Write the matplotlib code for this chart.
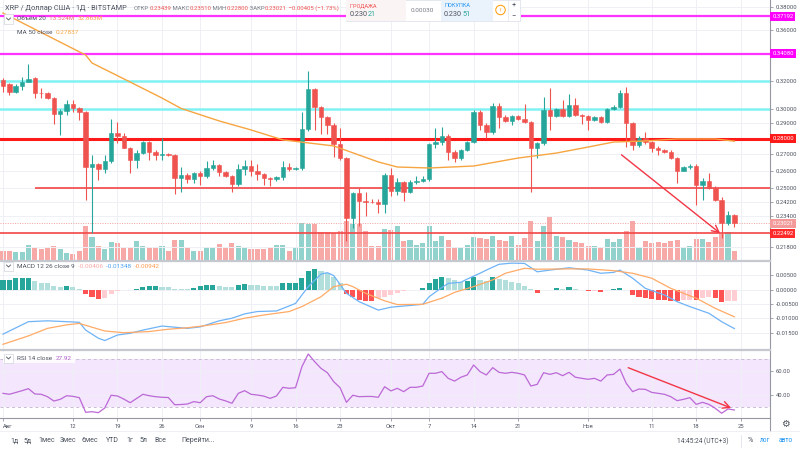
import matplotlib
matplotlib.use("Agg")
import matplotlib.pyplot as plt
import matplotlib.transforms as mtransforms
from matplotlib.patches import Rectangle
from matplotlib.lines import Line2D
from matplotlib.ticker import FixedLocator, FormatStrFormatter, NullLocator

plt.rcParams['font.family'] = ['Roboto', 'DejaVu Sans']

# ---------------- data ----------------
# x = day number, 0 = 1 Aug
date_ticks = [0, 11, 18, 25, 31, 39, 46, 53, 61, 67, 74, 81, 92, 102, 109, 116]
date_labels = ['Авг', '12', '19', '26', 'Сен', '9', '16', '23', 'Окт', '7', '14', '21', 'Ноя', '11', '18', '25']

opens = [
    .3208, .3176, .3122, .3166, .3195, .3220, .3115, .3110, .3079, .2967,
    .2986, .3032, .3004, .2981, .2625, .2639, .2611, .2660, .2835, .2820,
    .2743, .2662, .2711, .2781, .2717, .2697, .2705, .2697, .2559, .2575,
    .2551, .2585, .2567, .2615, .2637, .2591, .2567, .2520, .2607, .2627,
    .2595, .2581, .2555, .2549, .2561, .2625, .2611, .2615, .2861, .3142,
    .3016, .2942, .2890, .2764, .2676, .2331, .2468, .2424, .2420, .2416,
    .2407, .2575, .2481, .2531, .2473, .2531, .2541, .2549, .2766, .2781,
    .2818, .2717, .2680, .2728, .2777, .2981, .2890, .2842, .3023, .2947,
    .2920, .2949, .2931, .2913, .2739, .2770, .2993, .2954, .2999, .2954,
    .3027, .2958, .2949, .2924, .2944, .2909, .2999, .3016, .3110, .2902,
    .2760, .2807, .2777, .2743, .2728, .2717, .2676, .2599, .2619, .2631,
    .2516, .2539, .2500, .2430, .2304, .23439]
highs = [
    .3220, .3183, .3176, .3233, .3326, .3233, .3147, .3117, .3086, .2999,
    .3062, .3062, .3014, .2986, .2697, .2645, .2697, .2928, .2913, .2835,
    .2749, .2728, .2785, .2785, .2726, .2803, .2709, .2701, .2625, .2583,
    .2591, .2595, .2660, .2666, .2641, .2599, .2575, .2639, .2666, .2666,
    .2639, .2587, .2563, .2569, .2660, .2645, .2623, .2981, .3278, .3147,
    .3023, .2951, .2900, .2868, .2684, .2477, .2496, .2477, .2436, .2434,
    .2585, .2615, .2555, .2539, .2545, .2565, .2565, .2775, .2868, .2879,
    .2828, .2728, .2734, .2785, .2993, .2991, .2900, .3039, .3039, .2958,
    .2958, .2958, .3032, .2917, .2781, .3086, .3152, .3009, .3062, .3103,
    .3074, .2967, .2958, .2954, .2954, .3009, .3027, .3134, .3159, .2911,
    .2816, .2846, .2785, .2751, .2734, .2726, .2684, .2627, .2639, .2639,
    .2555, .2585, .2508, .2444, .2367, .23510]
lows = [
    .3122, .3098, .3110, .3134, .3190, .3079, .3074, .3069, .2895, .2824,
    .2958, .2981, .2924, .2430, .2252, .2545, .2585, .2645, .2770, .2739,
    .2585, .2615, .2705, .2666, .2666, .2666, .2690, .2462, .2473, .2526,
    .2526, .2516, .2559, .2605, .2565, .2561, .2477, .2512, .2575, .2565,
    .2545, .2516, .2512, .2539, .2545, .2595, .2603, .2605, .2853, .2857,
    .2828, .2828, .2686, .2666, .2209, .2278, .2287, .2340, .2412, .2358,
    .2358, .2449, .2459, .2424, .2466, .2520, .2531, .2539, .2739, .2760,
    .2666, .2655, .2666, .2722, .2770, .2857, .2803, .2833, .2868, .2909,
    .2890, .2922, .2904, .2477, .2676, .2760, .2857, .2944, .2947, .2947,
    .2951, .2895, .2857, .2917, .2900, .2902, .2991, .3004, .2749, .2728,
    .2747, .2768, .2717, .2697, .2709, .2668, .2526, .2595, .2611, .2403,
    .2430, .2492, .2421, .2226, .2295, .22800]
closes = [
    .3166, .3122, .3166, .3195, .3215, .3115, .3110, .3079, .2963, .2986,
    .3034, .3004, .2981, .2625, .2639, .2611, .2660, .2835, .2820, .2743,
    .2662, .2711, .2781, .2717, .2697, .2705, .2697, .2559, .2575, .2551,
    .2585, .2567, .2615, .2637, .2591, .2567, .2520, .2607, .2627, .2595,
    .2581, .2555, .2549, .2561, .2625, .2611, .2615, .2861, .3142, .3016,
    .2942, .2890, .2764, .2676, .2331, .2468, .2421, .2420, .2416, .2407,
    .2575, .2481, .2531, .2473, .2531, .2541, .2549, .2766, .2781, .2818,
    .2717, .2680, .2728, .2777, .2981, .2890, .2842, .3023, .2947, .2920,
    .2949, .2931, .2913, .2739, .2770, .2993, .2954, .2999, .2954, .3027,
    .2958, .2949, .2924, .2944, .2909, .2999, .3016, .3110, .2902, .2760,
    .2807, .2777, .2743, .2728, .2717, .2676, .2599, .2619, .2631, .2516,
    .2539, .2500, .2430, .2304, .2344, .23021]

# volume, millions
volume = [
    14, 14, 11.5, 11.5, 23, 19, 16.5, 19, 21.5, 16.5,
    10, 9, 13, 51.5, 34, 21.5, 16.5, 26.5, 25.5, 19,
    20, 29, 21.5, 19, 20, 21.5, 14, 30, 30, 17.5,
    14, 13, 20, 19, 24, 19, 25, 20.5, 20, 16.5,
    16.5, 16.5, 19, 23, 22, 13, 19, 55.5, 54, 54,
    41.5, 41.5, 40, 44, 59, 54, 54, 44, 21.5, 21.5,
    46.5, 45.5, 51.5, 28, 30, 22.5, 26, 51.5, 29, 35.5,
    30, 17.5, 19, 22.5, 34, 32.5, 31.5, 35.5, 30, 29,
    36.5, 22.5, 33, 59, 28, 51.5, 66.5, 36.5, 35, 30,
    26.5, 25, 21.5, 20.5, 19, 31.5, 27.5, 31.5, 44, 58,
    19, 29, 25, 27.5, 25, 29, 30, 19, 21.5, 31.5,
    31.5, 26.5, 34, 39, 42.5, 13.524]

ma50_days = [0, 13, 14, 20, 25, 28, 34, 39, 44, 52, 59, 62, 67, 74, 81, 87, 92, 96, 101, 106, 112, 115]
ma50_vals = [0.3745, 0.3398, 0.3336, 0.3192, 0.3076, 0.3003, 0.2917, 0.2857, 0.2792, 0.2753, 0.2653,
             0.2622, 0.2616, 0.2628, 0.2677, 0.2708, 0.2746, 0.2778, 0.2785, 0.2798, 0.2798, 0.27837]

macd_hist = [
    0.0034, 0.0034, 0.0038, 0.0039, 0.0041, 0.0030, 0.0024, 0.0021, 0.0013, 0.0009,
    0.0011, 0.0007, 0.0001, -0.0014, -0.0025, -0.0033, -0.0029, -0.0014, -0.0005, -0.0001,
    -0.0002, 0.0001, 0.0009, 0.0011, 0.0011, 0.0010, 0.0007, 0.0003, 0.0002, 0.0001,
    0.0006, 0.0011, 0.0015, 0.0016, 0.0013, 0.0010, 0.0009, 0.0017, 0.0020, 0.0017,
    0.0016, 0.0013, 0.0012, 0.0011, 0.0021, 0.0022, 0.0023, 0.0038, 0.0064, 0.0070,
    0.0064, 0.0057, 0.0044, 0.0021, -0.0014, -0.0025, -0.0037, -0.0038, -0.0039, -0.0031,
    -0.0025, -0.0019, -0.0011, -0.0005, -0.0003, -0.0001, 0.0006, 0.0022, 0.0035, 0.0042,
    0.0038, 0.0033, 0.0025, 0.0030, 0.0042, 0.0033, 0.0030, 0.0042, 0.0036, 0.0033,
    0.0027, 0.0021, 0.0013, 0.0001, -0.0011, -0.0002, 0.0000, 0.0004, 0.0003, 0.0007,
    0.0001, 0.0000, -0.0004, -0.0004, -0.0009, -0.0001, 0.0001, 0.0004, -0.0001, -0.0019,
    -0.0027, -0.0030, -0.0034, -0.0036, -0.0037, -0.0038, -0.0039, -0.0036, -0.0035, -0.0037,
    -0.0028, -0.0027, -0.0031, -0.0042, -0.0041, -0.00406]

macd_days = [0, 4, 7, 10, 12, 13, 15, 16, 18, 20, 22, 25, 29, 31, 34, 36, 38, 40, 43, 46, 48, 50, 51,
             52, 54, 56, 59, 61, 66, 67, 69, 70, 72, 73, 75, 76, 78, 80, 82, 84, 86, 89, 92, 94, 96,
             97, 99, 101, 104, 106, 108, 111, 113, 115]
macd_line = [-0.0154, -0.0111, -0.0108, -0.0111, -0.0113, -0.0140, -0.0168, -0.0176, -0.0157, -0.0151,
             -0.0140, -0.0126, -0.0134, -0.0129, -0.0108, -0.0099, -0.0084, -0.0076, -0.0074, -0.0048,
             0.0010, 0.0053, 0.0058, 0.0048, -0.0013, -0.0042, -0.0071, -0.0061, -0.0051, -0.0025,
             0.0007, 0.0021, 0.0025, 0.0036, 0.0056, 0.0067, 0.0087, 0.0091, 0.0090, 0.0061,
             0.0067, 0.0075, 0.0067, 0.0056, 0.0059, 0.0067, 0.0039, 0.0004, -0.0019, -0.0042,
             -0.0059, -0.0082, -0.0111, -0.01348]

signal_days = [0, 4, 7, 10, 12, 14, 16, 19, 23, 26, 29, 32, 35, 38, 41, 45, 47, 50, 52, 54, 55, 57,
               60, 62, 66, 69, 71, 74, 77, 79, 82, 84, 89, 92, 96, 99, 102, 105, 109, 112, 115]
signal_line = [-0.0189, -0.0160, -0.0134, -0.0122, -0.0117, -0.0130, -0.0143, -0.0149, -0.0145,
               -0.0137, -0.0132, -0.0124, -0.0114, -0.0099, -0.0088, -0.0076, -0.0059, -0.0025,
               0.0010, 0.0018, 0.0010, -0.0013, -0.0039, -0.0052, -0.0051, -0.0030, -0.0010,
               0.0010, 0.0033, 0.0056, 0.0073, 0.0070, 0.0071, 0.0071, 0.0065, 0.0056, 0.0039,
               0.0004, -0.0030, -0.0065, -0.00942]

rsi = [
    41.8, 41.0, 42.5, 44.0, 45.7, 41.3, 41.0, 39.0, 35.4, 36.8,
    39.8, 39.3, 38.2, 26.0, 26.5, 25.7, 29.6, 40.2, 39.6, 37.0,
    34.0, 37.5, 41.0, 39.8, 39.0, 38.5, 38.3, 32.3, 32.5, 32.9,
    34.9, 34.0, 39.0, 39.8, 37.1, 35.5, 33.5, 41.8, 44.0, 41.0,
    40.4, 39.5, 37.6, 39.6, 46.8, 46.0, 46.5, 64.0, 74.6, 68.2,
    62.6, 59.0, 51.5, 46.5, 34.3, 40.2, 39.0, 39.2, 39.2, 38.5,
    47.3, 43.8, 46.0, 43.2, 46.8, 46.8, 47.9, 58.5, 58.5, 59.9,
    54.3, 52.0, 55.2, 57.1, 65.4, 59.9, 57.1, 63.2, 59.3, 58.5,
    59.3, 58.5, 57.1, 47.9, 49.3, 59.0, 57.6, 59.0, 56.5, 59.3,
    55.2, 54.3, 53.5, 54.3, 52.0, 57.1, 57.6, 62.0, 50.1, 43.2,
    45.4, 45.1, 42.6, 41.8, 41.0, 39.0, 35.7, 36.8, 38.2, 32.6,
    34.3, 32.6, 29.3, 25.2, 28.8, 27.92]

# drawn levels
resist_magenta = [0.37192, 0.34080]
resist_cyan = [0.32, 0.30]
level_main = 0.28
support_mid = 0.25
support_mid_from = 5
support_low = 0.22492
last_price = 0.23021

price_ticks = [0.38, 0.36, 0.32, 0.30, 0.29, 0.27, 0.26, 0.25, 0.242, 0.234, 0.218]
macd_ticks = [0.005, 0.0, -0.005, -0.01, -0.015]
rsi_ticks = [60, 40]

price_arrow = ((96.9, 0.2708), (113.1, 0.2240))
rsi_arrow = ((97.9, 64.0), (114.9, 28.75))

# ---------------- layout ----------------
W, H = 800, 450
PANE_R = 770
XLIM = (-0.47, 120.6)

GREEN = '#26a69a'
RED = '#ef5350'
TXT = '#4c525e'
GRAY = '#787b86'

fig = plt.figure(figsize=(8, 4.5), dpi=100)
fig.patch.set_facecolor('white')
renderer = fig.canvas.get_renderer()


def fx(px):
    return px / W


def fy(py):
    return 1 - py / H


def rect(top, bottom):
    return [0, fy(bottom), fx(PANE_R), (bottom - top) / H]


def ftext(x, y, s, color=TXT, size=4.6, **kw):
    kw.setdefault('zorder', 6)
    return fig.text(fx(x), fy(y), s, color=color, fontsize=size, va='center', **kw)


def ftext_seq(x, y, parts, size=4.6, **kw):
    # strings written one after another, each in its own colour
    for s, c in parts:
        t = ftext(x, y, s, color=c, size=size, **kw)
        x += t.get_window_extent(renderer).width
    return x


def style_pane(a, ticks, fmt):
    a.set_xlim(*XLIM)
    a.yaxis.set_major_locator(FixedLocator(ticks))
    a.yaxis.set_minor_locator(NullLocator())
    a.yaxis.set_major_formatter(FormatStrFormatter(fmt))
    a.yaxis.tick_right()
    a.tick_params(axis='y', length=2.5, width=0.6, pad=1.5, labelsize=4.2,
                  labelcolor=TXT, color='#9598a1')
    a.set_xticks(date_ticks)
    a.tick_params(axis='x', length=0, labelbottom=False)
    a.grid(True, color='#eef0f5', lw=0.7)
    for s in ['top', 'left', 'bottom']:
        a.spines[s].set_visible(False)
    a.spines['right'].set_color('#9598a1')
    a.spines['right'].set_linewidth(0.8)


days = list(range(len(closes)))
up = [c >= o for o, c in zip(opens, closes)]

# volume behind the candles
axv = fig.add_axes(rect(0, 260))
axv.bar(days, volume, width=0.8, color=['#92d2cc' if u else '#f7a9a7' for u in up])
axv.set_xlim(*XLIM)
axv.set_ylim(0, 390)
axv.axis('off')

# price pane
ax = fig.add_axes(rect(0, 260))
ax.patch.set_visible(False)
ax.set_yscale('log')
ax.set_ylim(0.2114, 0.3860)
style_pane(ax, price_ticks, '%.5f')

for lv in resist_magenta:
    ax.axhline(lv, color='#ff33ff', lw=1.6, zorder=2)
for lv in resist_cyan:
    ax.axhline(lv, color='#80f2f2', lw=1.8, zorder=2)
ax.axhline(level_main, color='#ff1a1a', lw=2.2, zorder=2)
ax.hlines(support_mid, support_mid_from, XLIM[1], color='#f44545', lw=1.2, zorder=2)
ax.axhline(support_low, color='#f44545', lw=1.2, zorder=2)
ax.axhline(last_price, color='#f4a0a0', lw=0.7, ls=(0, (1, 1.5)), zorder=2)

cols = [GREEN if u else RED for u in up]
ax.vlines(days, lows, highs, colors=cols, lw=0.8, zorder=3)
ax.bar(days, [abs(c - o) for o, c in zip(opens, closes)], bottom=[min(o, c) for o, c in zip(opens, closes)],
       width=0.7, color=cols, edgecolor=cols, lw=0.4, zorder=4)
ax.plot(ma50_days, ma50_vals, color='#f7a541', lw=1.0, zorder=5)

ax.annotate('', xy=price_arrow[1], xytext=price_arrow[0],
            arrowprops=dict(arrowstyle='->,head_length=0.5,head_width=0.25', color='#f23645', lw=1.0),
            zorder=6)

# coloured price labels on the right scale
blend = mtransforms.blended_transform_factory(ax.transAxes, ax.transData)
for val, fc in [(0.37192, '#ff00ff'), (0.34080, '#ff00ff'), (0.28, '#ff1a1a'),
                (last_price, '#f39a9a'), (support_low, '#ff2b2b')]:
    ax.text(1.003, val, '%.5f' % val, transform=blend, ha='left', va='center', fontsize=4.2,
            color='white', clip_on=False, zorder=7,
            bbox=dict(boxstyle='square,pad=0.35', fc=fc, ec=fc, lw=0))

# MACD pane
axm = fig.add_axes(rect(261, 349))
axm.set_ylim(-0.02052, 0.00983)
style_pane(axm, macd_ticks, '%.5f')
hist_cols = []
for i, h in enumerate(macd_hist):
    prev = macd_hist[i - 1] if i > 0 else h
    if h >= 0:
        hist_cols.append('#26a69a' if h >= prev else '#b2dfdb')
    else:
        hist_cols.append('#ff5252' if h < prev else '#ffcdd2')
axm.bar(days, macd_hist, width=0.8, color=hist_cols, zorder=2)
axm.plot(macd_days, macd_line, color='#6fb3f7', lw=0.9, zorder=3)
axm.plot(signal_days, signal_line, color='#ffaa66', lw=0.9, zorder=3)

# RSI pane
axr = fig.add_axes(rect(350, 418))
axr.set_ylim(21.25, 77.9)
style_pane(axr, rsi_ticks, '%.2f')
axr.axhspan(30, 70, color='#f3e6fd', zorder=0, lw=0)
axr.axhline(70, color='#c9bcd6', lw=0.7, ls=(0, (3, 3)))
axr.axhline(30, color='#c9bcd6', lw=0.7, ls=(0, (3, 3)))
axr.plot(days, rsi, color='#bc68d6', lw=0.9, zorder=3)
axr.annotate('', xy=rsi_arrow[1], xytext=rsi_arrow[0],
             arrowprops=dict(arrowstyle='->,head_length=0.5,head_width=0.25', color='#f23645', lw=1.0),
             zorder=6)
axr.spines['bottom'].set_visible(True)
axr.spines['bottom'].set_color('#9598a1')
axr.spines['bottom'].set_linewidth(0.8)
axr.set_xticks(date_ticks, date_labels)
axr.tick_params(axis='x', length=2, width=0.6, color='#9598a1', pad=2, labelsize=4.2,
                labelcolor=TXT, labelbottom=True)
first_lbl = axr.get_xticklabels()[0]
first_lbl.set_horizontalalignment('left')
first_lbl.set_x(-0.4)

# pane separators and frame lines
for yy in (260.5, 349.5):
    fig.add_artist(Line2D([0, fx(PANE_R)], [fy(yy), fy(yy)], color='#c5c8cf', lw=1.6))
fig.add_artist(Line2D([fx(PANE_R), fx(PANE_R)], [fy(418), fy(431)], color='#9598a1', lw=0.8))
fig.add_artist(Line2D([0, 1], [fy(431), fy(431)], color='#eceef2', lw=0.6))
ftext(785, 424, '⚙', color=TXT, size=7, ha='center')

# ---------------- header ----------------
ftext(5, 8, 'XRP / Доллар США · 1Д · BITSTAMP', color=TXT, size=5.3)
ftext_seq(134, 8, [('ОТКР', GRAY), ('0.23439', RED), (' МАКС', GRAY), ('0.23510', RED),
                   (' МИН', GRAY), ('0.22800', RED), (' ЗАКР', GRAY), ('0.23021', RED),
                   (' −0.00405 (−1.73%)', RED)], size=4.3)

# sell / buy panel
fig.add_artist(Rectangle((fx(346), fy(21)), 174 / W, 21 / H, transform=fig.transFigure,
                         fc='white', ec='#e0e3eb', lw=0.6, zorder=5))
fig.add_artist(Rectangle((fx(346), fy(21)), 60 / W, 21 / H, transform=fig.transFigure,
                         fc='#fbf4f4', ec='none', zorder=5))
fig.add_artist(Rectangle((fx(441), fy(21)), 52 / W, 21 / H, transform=fig.transFigure,
                         fc='#eaf2fc', ec='none', zorder=5))
fig.add_artist(Rectangle((fx(508), fy(21)), 12 / W, 21 / H, transform=fig.transFigure,
                         fc='white', ec='#e0e3eb', lw=0.5, zorder=5))
ftext(350, 5.5, 'ПРОДАЖА', color=RED, size=4.0)
ftext_seq(350, 14, [('0.230', TXT), ('21', GREEN)], size=5.2)
ftext(411, 10, '0.00030', color=GRAY, size=4.6)
ftext(444, 5.5, 'ПОКУПКА', color='#2196f3', size=4.0)
ftext_seq(444, 14, [('0.230', TXT), ('51', GREEN)], size=5.2)
ftext(500.5, 10, '!', color='#ff9800', size=4.6, ha='center',
      bbox=dict(boxstyle='circle,pad=0.35', fc='white', ec='#ff9800', lw=0.7))
ftext(514, 5, '+', color=TXT, size=5.5, ha='center')
ftext(514, 15.5, '−', color=TXT, size=5.5, ha='center')


def legend_button(y):
    fig.add_artist(Rectangle((fx(4), fy(y + 4.5)), 9 / W, 9 / H, transform=fig.transFigure,
                             fc='white', ec='#d1d4dc', lw=0.5, zorder=5))
    fig.add_artist(Line2D([fx(6.5), fx(8.5), fx(10.5)], [fy(y - 1), fy(y + 1), fy(y - 1)],
                          color=TXT, lw=0.6, zorder=6))


legend_button(19)
ftext_seq(17, 19, [('Объём 20  ', TXT), ('13.524M  ', '#f0717a'), ('32.863M', '#ff9a50')])
ftext_seq(17, 32, [('MA 50 close  ', TXT), ('0.27837', '#f7a541')])

legend_button(266)
ftext_seq(17, 266, [('MACD 12 26 close 9  ', TXT), ('-0.00406  ', '#f7a9a7'),
                    ('-0.01348  ', '#4ea2f2'), ('-0.00942', '#ff9a50')])

fig.add_artist(Rectangle((fx(3), fy(363)), 72 / W, 11 / H, transform=fig.transFigure,
                         fc='white', ec='none', alpha=0.85, zorder=4))
legend_button(358)
ftext_seq(17, 358, [('RSI 14 close  ', TXT), ('27.92', '#b05cc8')])

# ---------------- bottom toolbar ----------------
for x, s in [(10, '1д'), (24, '5д'), (38, '1мес'), (60, '3мес'), (81, '6мес'), (106, 'YTD'),
             (126, '1г'), (140, '5л'), (154, 'Все'), (181, 'Перейти...')]:
    ftext(x, 441, s, size=5.0)
ftext(677, 441, '14:45:24 (UTC+3)', size=4.8)
fig.add_artist(Line2D([fx(741), fx(741)], [fy(435), fy(447)], color='#e0e3eb', lw=0.6))
ftext(748, 441, '%', size=5.2)
ftext(760, 441, 'лог', color='#2196f3', size=4.8)
ftext(779, 441, 'авто', color='#2196f3', size=4.8)

fig.savefig('out.png', dpi=100)
